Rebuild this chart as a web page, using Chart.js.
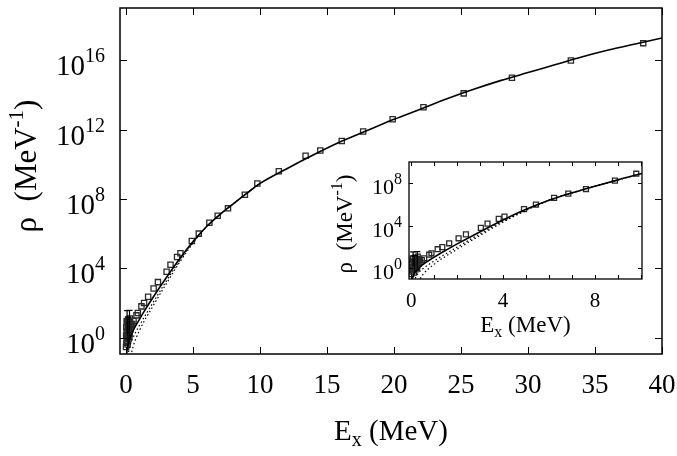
<!DOCTYPE html>
<html>
<head>
<meta charset="utf-8">
<style>
  html, body { margin: 0; padding: 0; background: #fff; }
  #wrap { position: relative; width: 677px; height: 456px; }
  #mainBox { position: absolute; left: 0; top: 0; width: 677px; height: 456px; }
  #insetBox { position: absolute; left: 320px; top: 150px; width: 340px; height: 190px; }
</style>
</head>
<body>
<div id="wrap">
  <div id="mainBox"><canvas id="mainChart"></canvas></div>
  <div id="insetBox"><canvas id="insetChart"></canvas></div>
</div>

<script src="https://cdn.jsdelivr.net/npm/chart.js@4.4.1/dist/chart.umd.min.js"></script>
<script>
  // measured level density, E in MeV, rho given as log10 exponent
  const energies = [0.00, 0.01, 0.02, 0.03, 0.04, 0.05, 0.06, 0.08, 0.09, 0.10, 0.12, 0.13, 0.14, 0.16, 0.17,
                    0.19, 0.20, 0.22, 0.23, 0.25, 0.26, 0.28, 0.30, 0.32, 0.34, 0.38,
                    0.46, 0.56, 0.78, 0.88, 1.15, 1.35, 1.65, 2.06, 2.38, 3.03, 3.32, 3.81, 4.06,
                    4.91, 5.43, 6.22, 6.84, 7.61, 8.87, 9.8, 11.4, 13.4, 14.5, 16.1, 17.7, 19.9,
                    22.2, 25.2, 28.8, 33.2, 38.6];
  const logRho   = [-0.55, 0.1, 0.6, -0.3, 0.35, 0.95, -0.2, 0.9, 0.0, 0.3, -0.4, 0.55, 0.7, 0.15, 1.0,
                    -0.1, 0.4, 0.65, 0.8, 0.05, 0.2, 1.1, 0.9, 0.45, 0.6, 0.75,
                    0.78, 0.95, 1.28, 1.42, 1.8, 2.0, 2.36, 2.83, 3.2, 3.8, 4.2, 4.65, 4.87,
                    5.57, 6.0, 6.63, 7.03, 7.46, 8.25, 8.9, 9.6, 10.5, 10.8, 11.35, 11.9, 12.6,
                    13.3, 14.1, 15.0, 16.0, 17.0];
  const errE    = [0.08, 0.26, 0.14];
  const errLow  = [0.2, 0.0, -0.3];
  const errHigh = [1.55, 1.57, 1.2];

  // model curves (log10 rho)
  const curveE     = [0, 0.1, 0.25, 0.5, 1, 1.5, 2, 3, 4, 5, 6, 7, 8, 9, 10, 12, 14, 16, 18, 20,
                      22, 24, 26, 28, 30, 32, 34, 36, 38, 40];
  const curveSolid = [-1.3, -0.6, -0.15, 0.35, 1.05, 1.7, 2.3, 3.45, 4.55, 5.55, 6.4, 7.1, 7.72, 8.32, 8.9,
                      9.75, 10.55, 11.3, 11.95, 12.6, 13.2, 13.8, 14.35, 14.85, 15.3, 15.75, 16.2, 16.6, 16.95, 17.3];
  const dotE1   = [0.1, 0.25, 0.5, 1, 2, 3, 4, 5, 6, 7, 8, 9, 10];
  const dotLog1 = [-1.3, -0.6, -0.05, 0.7, 2.0, 3.25, 4.45, 5.5, 6.4, 7.1, 7.72, 8.32, 8.9];
  const dotE2   = [0.3, 0.5, 1, 2, 3, 4, 5, 6, 7, 8, 9, 10];
  const dotLog2 = [-1.3, -0.6, 0.4, 1.8, 3.1, 4.35, 5.45, 6.4, 7.1, 7.72, 8.32, 8.9];

  const mainXTicks    = [0, 5, 10, 15, 20, 25, 30, 35, 40];
  const mainYTickExp  = [0, 4, 8, 12, 16];
  const insetXTicks   = [0, 1, 2, 3, 4, 5, 6, 7, 8, 9, 10];
  const insetXLabels  = [0, 4, 8];
  const insetYTickExp = [0, 4, 8];

  const SERIF = '"Liberation Serif", "DejaVu Serif", serif';

  function pts(xs, logs) {
    return xs.map((x, i) => ({ x: x, y: Math.pow(10, logs[i]) }));
  }

  // draws text made of pieces: [text, size, baseline shift]
  function drawParts(ctx, parts, x, y, align) {
    let w = 0;
    parts.forEach(p => { ctx.font = p[1] + 'px ' + SERIF; w += ctx.measureText(p[0]).width; });
    let cx = align === 'right' ? x - w : align === 'center' ? x - w / 2 : x;
    ctx.textAlign = 'left';
    ctx.textBaseline = 'alphabetic';
    parts.forEach(p => {
      ctx.font = p[1] + 'px ' + SERIF;
      ctx.fillText(p[0], cx, y + p[2]);
      cx += ctx.measureText(p[0]).width;
    });
  }

  function decor(cfg) {
    return {
      id: 'decor',
      afterDatasetsDraw(chart) {
        const ctx = chart.ctx;
        const a = chart.chartArea;
        const xs = chart.scales.x, ys = chart.scales.y;
        ctx.save();
        ctx.strokeStyle = '#000';
        ctx.fillStyle = '#000';

        // error bars
        ctx.save();
        ctx.beginPath();
        ctx.rect(a.left, a.top, a.right - a.left, a.bottom - a.top);
        ctx.clip();
        ctx.lineWidth = 1.2;
        errE.forEach((e, i) => {
          const px = xs.getPixelForValue(e);
          const y1 = ys.getPixelForValue(Math.pow(10, errLow[i]));
          const y2 = ys.getPixelForValue(Math.pow(10, errHigh[i]));
          ctx.beginPath();
          ctx.moveTo(px, y1); ctx.lineTo(px, y2);
          ctx.moveTo(px - 3, y2); ctx.lineTo(px + 3, y2);
          ctx.stroke();
        });
        ctx.restore();

        // frame + inward ticks on all sides
        ctx.lineWidth = cfg.frame;
        ctx.strokeRect(a.left, a.top, a.right - a.left, a.bottom - a.top);
        ctx.lineWidth = 1;
        ctx.beginPath();
        cfg.xTicks.forEach(v => {
          const px = Math.round(xs.getPixelForValue(v)) + 0.5;
          ctx.moveTo(px, a.bottom); ctx.lineTo(px, a.bottom - cfg.tick);
          ctx.moveTo(px, a.top); ctx.lineTo(px, a.top + cfg.tick);
        });
        cfg.yExp.forEach(e => {
          const py = Math.round(ys.getPixelForValue(Math.pow(10, e))) + 0.5;
          ctx.moveTo(a.left, py); ctx.lineTo(a.left + cfg.tick, py);
          ctx.moveTo(a.right, py); ctx.lineTo(a.right - cfg.tick, py);
        });
        ctx.stroke();

        // x tick labels
        cfg.xLabels.forEach(v => {
          drawParts(ctx, [[String(v), cfg.xTickSize, 0]], xs.getPixelForValue(v), a.bottom + cfg.xLabBase, 'center');
        });

        // y tick labels 10^n
        cfg.yExp.forEach(e => {
          const py = ys.getPixelForValue(Math.pow(10, e));
          drawParts(ctx, [['10', cfg.tickSize, 0], [String(e), cfg.supSize, -cfg.supRaise]],
                    a.left - cfg.yGap, py + cfg.yBase, 'right');
        });

        // x title
        drawParts(ctx, [['E', cfg.titleSize, 0], ['x', cfg.supSize, cfg.subDrop], [' (MeV)', cfg.titleSize, 0]],
                  (a.left + a.right) / 2, cfg.xTitleY, 'center');

        // y title
        ctx.save();
        ctx.translate(cfg.yTitleX, cfg.yTitleY);
        ctx.rotate(-Math.PI / 2);
        drawParts(ctx, [['\u03C1  (MeV', cfg.yTitleSize, 0], ['-1', cfg.ySupSize, -cfg.supRaise], [')', cfg.yTitleSize, 0]],
                  0, 0, 'center');
        ctx.restore();
        ctx.restore();
      }
    };
  }

  function makeDatasets(markerR) {
    return [
      { type: 'line', data: pts(curveE, curveSolid), borderColor: '#000', borderWidth: 1.6,
        pointRadius: 0, cubicInterpolationMode: 'monotone', fill: false },
      { type: 'line', data: pts(dotE1, dotLog1), borderColor: '#000', borderWidth: 1.2, borderDash: [1.5, 2.5],
        pointRadius: 0, cubicInterpolationMode: 'monotone', fill: false },
      { type: 'line', data: pts(dotE2, dotLog2), borderColor: '#000', borderWidth: 1.2, borderDash: [1.5, 2.5],
        pointRadius: 0, cubicInterpolationMode: 'monotone', fill: false },
      { type: 'scatter', data: pts(energies, logRho), pointStyle: 'rect', pointRadius: markerR,
        borderColor: '#2a2a2a', borderWidth: 1.3, backgroundColor: 'rgba(255,255,255,0)' }
    ];
  }

  function axes(xMin, xMax, xTicks, yMin, yMax, yExp, xH, yW) {
    return {
      x: {
        type: 'linear', min: xMin, max: xMax,
        afterBuildTicks: s => { s.ticks = xTicks.map(v => ({ value: v })); },
        afterFit: s => { s.height = xH; },
        grid: { display: false, drawTicks: false },
        border: { display: false },
        ticks: { display: false }
      },
      y: {
        type: 'logarithmic', min: yMin, max: yMax,
        afterBuildTicks: s => { s.ticks = yExp.map(e => ({ value: Math.pow(10, e) })); },
        afterFit: s => { s.width = yW; },
        grid: { display: false, drawTicks: false },
        border: { display: false },
        ticks: { display: false }
      }
    };
  }

  new Chart(document.getElementById('mainChart'), {
    type: 'scatter',
    data: { datasets: makeDatasets(3.7) },
    options: {
      responsive: true,
      maintainAspectRatio: false,
      animation: false,
      layout: { padding: { left: 0, top: 8, right: 15, bottom: 0 } },
      scales: axes(-0.45, 40, mainXTicks, 0.112, 1.07e19, mainYTickExp, 102, 120),
      plugins: { legend: { display: false }, tooltip: { enabled: false } }
    },
    plugins: [decor({
      frame: 1.5, tick: 7, xTicks: mainXTicks, yExp: mainYTickExp,
      xLabels: mainXTicks, xTickSize: 27, xLabBase: 39,
      tickSize: 29, supSize: 20, supRaise: 13, yGap: 15, yBase: 15,
      titleSize: 29, subDrop: 6, xTitleY: 440,
      yTitleSize: 31, ySupSize: 21, yTitleX: 36, yTitleY: 166
    })]
  });

  new Chart(document.getElementById('insetChart'), {
    type: 'scatter',
    data: { datasets: makeDatasets(3.5) },
    options: {
      responsive: true,
      maintainAspectRatio: false,
      animation: false,
      layout: { padding: { left: 0, top: 12, right: 18, bottom: 0 } },
      scales: axes(-0.1, 10.05, insetXTicks, 0.1, 1e10, insetYTickExp, 61, 89),
      plugins: { legend: { display: false }, tooltip: { enabled: false } }
    },
    plugins: [decor({
      frame: 1.3, tick: 4, xTicks: insetXTicks, yExp: insetYTickExp,
      xLabels: insetXLabels, xTickSize: 21, xLabBase: 28,
      tickSize: 22, supSize: 16, supRaise: 10, yGap: 7, yBase: 11,
      titleSize: 23, subDrop: 5, xTitleY: 182,
      yTitleSize: 23, ySupSize: 16, yTitleX: 32, yTitleY: 74
    })]
  });
</script>
</body>
</html>
